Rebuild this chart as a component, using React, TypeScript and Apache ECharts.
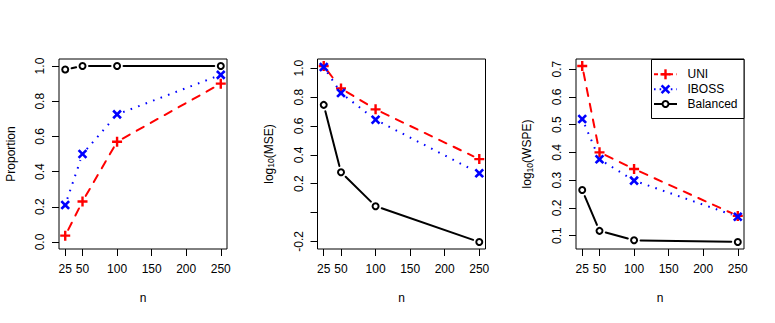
import React, { useEffect, useRef } from "react";
import * as echarts from "echarts";

// ---------------- data ----------------
const sampleSizes = [25, 50, 100, 250];
const xTicks = [25, 50, 100, 150, 200, 250];

const propUNI = [0.036, 0.23, 0.57, 0.9];
const propIBOSS = [0.21, 0.5, 0.725, 0.95];
const propBalanced = [0.98, 1.0, 1.0, 1.0];

const mseUNI = [1.015, 0.86, 0.715, 0.37];
const mseIBOSS = [1.008, 0.828, 0.643, 0.272];
const mseBalanced = [0.746, 0.279, 0.044, -0.204];

const wspeUNI = [0.711, 0.4, 0.34, 0.171];
const wspeIBOSS = [0.52, 0.375, 0.298, 0.168];
const wspeBalanced = [0.264, 0.117, 0.083, 0.077];

const propTicks = [0, 0.2, 0.4, 0.6, 0.8, 1.0];
const mseTicks = [-0.2, 0, 0.2, 0.4, 0.6, 0.8, 1.0];
const mseTickLabels = [-0.2, 0.2, 0.4, 0.6, 0.8, 1.0];
const wspeTicks = [0.1, 0.2, 0.3, 0.4, 0.5, 0.6, 0.7];

const methodNames = ["UNI", "IBOSS", "Balanced"];
const yTitles = ["Proportion", "{t|log}{s|10}{t|(MSE)}", "{t|log}{s|10}{t|(WSPE)}"];

// ---------------- styles ----------------
const FONT = '"Liberation Sans", Arial, Helvetica, sans-serif';
const PLUS_PATH = "path://M3.8,0H6.2V3.8H10V6.2H6.2V10H3.8V6.2H0V3.8H3.8Z";
const GAP = 6.5;

const methodStyles = [
  { color: "#FF0000", dash: [8, 8], cap: "round", width: 2, symbol: PLUS_PATH, size: 10, rotate: 0, hollow: false },
  { color: "#0000FF", dash: [1.6, 6.4], cap: "butt", width: 2, symbol: PLUS_PATH, size: 11, rotate: 45, hollow: false },
  { color: "#000000", dash: null, cap: "round", width: 2, symbol: "circle", size: 6, rotate: 0, hollow: true },
];

const gridLefts = [59, 317.5, 576];
const GRID_TOP = 59;
const GRID_W = 168;
const GRID_H = 190;

function padRange(lo: number, hi: number): [number, number] {
  const p = 0.04 * (hi - lo);
  return [lo - p, hi + p];
}

export default function App() {
  const ref = useRef<HTMLDivElement>(null);

  useEffect(() => {
    if (!ref.current) return;
    const chart = echarts.init(ref.current, null, { renderer: "svg" });

    const panels = [
      { series: [propUNI, propIBOSS, propBalanced], ticks: propTicks, labels: propTicks, range: padRange(0, 1) },
      {
        series: [mseUNI, mseIBOSS, mseBalanced],
        ticks: mseTicks,
        labels: mseTickLabels,
        range: padRange(
          Math.min(...mseUNI, ...mseIBOSS, ...mseBalanced),
          Math.max(...mseUNI, ...mseIBOSS, ...mseBalanced)
        ),
      },
      {
        series: [wspeUNI, wspeIBOSS, wspeBalanced],
        ticks: wspeTicks,
        labels: wspeTicks,
        range: padRange(
          Math.min(...wspeUNI, ...wspeIBOSS, ...wspeBalanced),
          Math.max(...wspeUNI, ...wspeIBOSS, ...wspeBalanced)
        ),
      },
    ];
    const xRange = padRange(sampleSizes[0], sampleSizes[sampleSizes.length - 1]);

    const textBase = { color: "#000", fontSize: 12, fontFamily: FONT };

    const grid = gridLefts.map((left) => ({
      left,
      top: GRID_TOP,
      width: GRID_W,
      height: GRID_H,
      show: true,
      borderColor: "#000",
      borderWidth: 1,
      backgroundColor: "transparent",
      containLabel: false,
      outerBoundsMode: "none",
    }));

    const xAxis = panels.map((_, i) => ({
      type: "value",
      gridIndex: i,
      position: "bottom",
      min: xRange[0],
      max: xRange[1],
      axisLine: { show: false, onZero: false },
      splitLine: { show: false },
      axisTick: { show: true, inside: false, length: 7, customValues: xTicks, lineStyle: { color: "#000", width: 1 } },
      axisLabel: { ...textBase, margin: 14, customValues: xTicks, formatter: (v: number) => String(v) },
      name: "n",
      nameLocation: "middle",
      nameGap: 43,
      nameTextStyle: { ...textBase },
    }));

    const yAxis = panels.map((p, i) => ({
      type: "value",
      gridIndex: i,
      position: "left",
      min: p.range[0],
      max: p.range[1],
      axisLine: { show: false, onZero: false },
      splitLine: { show: false },
      axisTick: { show: true, inside: false, length: 7, customValues: p.ticks, lineStyle: { color: "#000", width: 1 } },
      axisLabel: {
        ...textBase,
        margin: 13,
        rotate: 90,
        customValues: p.labels,
        formatter: (v: number) => v.toFixed(1),
      },
      name: yTitles[i],
      nameLocation: "middle",
      nameRotate: 90,
      nameGap: 42,
      nameTextStyle: {
        ...textBase,
        rich: {
          t: { color: "#000", fontSize: 12, fontFamily: FONT, lineHeight: 14 },
          s: { color: "#000", fontSize: 8.5, fontFamily: FONT, lineHeight: 6, verticalAlign: "bottom" },
        },
      },
    }));

    const series: any[] = [];
    let z = 2;
    panels.forEach((p, pi) => {
      p.series.forEach((ys, mi) => {
        const st = methodStyles[mi];
        const segs = sampleSizes.slice(0, -1).map((x, k) => [x, ys[k], sampleSizes[k + 1], ys[k + 1]]);
        series.push({
          type: "custom",
          name: methodNames[mi],
          xAxisIndex: pi,
          yAxisIndex: pi,
          silent: true,
          z: z++,
          encode: { x: [0, 2], y: [1, 3] },
          data: segs,
          renderItem: (_params: any, api: any) => {
            const a = api.coord([api.value(0), api.value(1)]);
            const b = api.coord([api.value(2), api.value(3)]);
            const dx = b[0] - a[0];
            const dy = b[1] - a[1];
            const len = Math.hypot(dx, dy);
            if (len <= 2 * GAP) return { type: "group", children: [] };
            const ux = dx / len;
            const uy = dy / len;
            return {
              type: "line",
              shape: { x1: a[0] + ux * GAP, y1: a[1] + uy * GAP, x2: b[0] - ux * GAP, y2: b[1] - uy * GAP },
              style: {
                stroke: st.color,
                lineWidth: st.width,
                lineDash: st.dash || undefined,
                lineCap: st.cap,
                fill: null,
              },
            };
          },
        });
        series.push({
          type: "scatter",
          name: methodNames[mi],
          xAxisIndex: pi,
          yAxisIndex: pi,
          silent: true,
          z: z++,
          symbol: st.symbol,
          symbolSize: st.size,
          symbolRotate: st.rotate,
          itemStyle: st.hollow
            ? { color: "rgba(0,0,0,0)", borderColor: st.color, borderWidth: 2, opacity: 1 }
            : { color: st.color, borderWidth: 0, opacity: 1 },
          emphasis: { disabled: true },
          data: sampleSizes.map((x, k) => [x, ys[k]]),
        });
      });
    });

    // legend (drawn as graphics, R-style box)
    const lgX = 651.5;
    const lgY = 59.5;
    const rowY = [74.3, 89.3, 104];
    const segX0 = 654;
    const segX1 = 677;
    const symX = 665.5;
    const textX = 687.5;
    const graphic: any[] = [
      {
        type: "rect",
        z: 100,
        shape: { x: lgX, y: lgY, width: 744 - lgX, height: 118.5 - lgY },
        style: { fill: "#fff", stroke: "#000", lineWidth: 1 },
      },
    ];
    methodNames.forEach((name, i) => {
      const st = methodStyles[i];
      const cy = rowY[i];
      graphic.push({
        type: "line",
        z: 101,
        shape: { x1: segX0, y1: cy, x2: segX1, y2: cy },
        style: {
          stroke: st.color,
          lineWidth: st.width,
          lineDash: i === 0 ? [4, 3.5] : i === 1 ? [1.6, 4] : undefined,
          lineCap: "butt",
        },
      });
      if (i === 0) {
        graphic.push(
          { type: "line", z: 102, shape: { x1: symX - 5, y1: cy, x2: symX + 5, y2: cy }, style: { stroke: st.color, lineWidth: 2.4 } },
          { type: "line", z: 102, shape: { x1: symX, y1: cy - 5, x2: symX, y2: cy + 5 }, style: { stroke: st.color, lineWidth: 2.4 } }
        );
      } else if (i === 1) {
        graphic.push(
          { type: "line", z: 102, shape: { x1: symX - 3.9, y1: cy - 3.9, x2: symX + 3.9, y2: cy + 3.9 }, style: { stroke: st.color, lineWidth: 2.6 } },
          { type: "line", z: 102, shape: { x1: symX - 3.9, y1: cy + 3.9, x2: symX + 3.9, y2: cy - 3.9 }, style: { stroke: st.color, lineWidth: 2.6 } }
        );
      } else {
        graphic.push({
          type: "circle",
          z: 102,
          shape: { cx: symX, cy, r: 3 },
          style: { fill: "#fff", stroke: st.color, lineWidth: 2 },
        });
      }
      graphic.push({
        type: "text",
        z: 102,
        x: textX,
        y: cy,
        style: { text: name, fill: "#000", fontSize: 12, fontFamily: FONT, align: "left", verticalAlign: "middle" },
      });
    });

    chart.setOption({
      animation: false,
      backgroundColor: "#fff",
      tooltip: { show: false },
      grid,
      xAxis,
      yAxis,
      series,
      graphic,
    } as any);

    return () => chart.dispose();
  }, []);

  return (
    <div
      ref={ref}
      style={{ position: "absolute", left: 0, top: 0, width: 775, height: 323 }}
    />
  );
}
